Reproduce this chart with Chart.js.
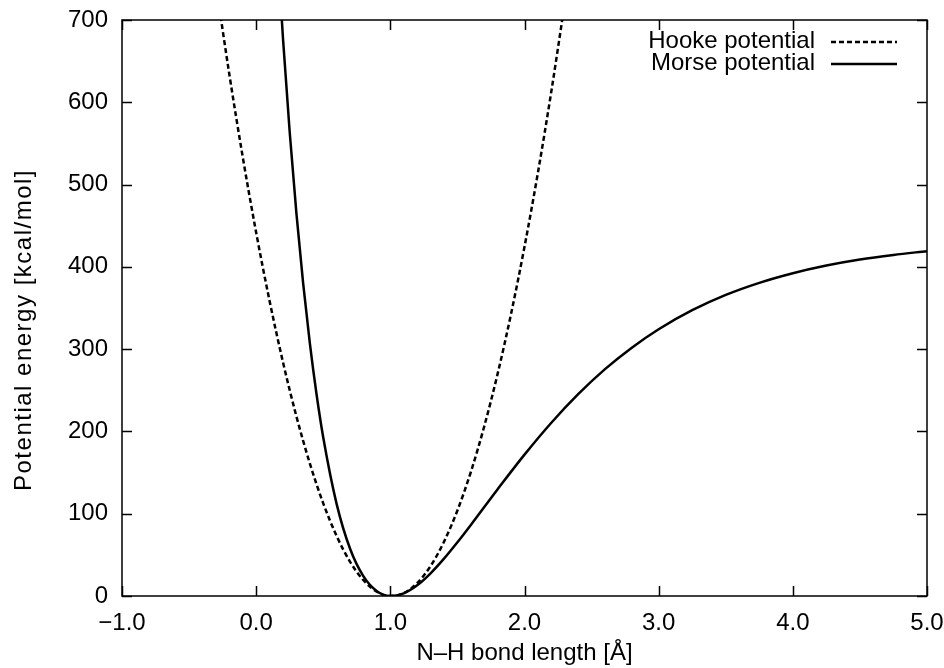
<!DOCTYPE html>
<html>
<head>
<meta charset="utf-8">
<script src="https://cdn.jsdelivr.net/npm/chart.js@4.4.1/dist/chart.umd.min.js"></script>
<style>
  html, body { margin: 0; padding: 0; background: #fff; }
  #wrap { width: 944px; height: 668px; }
</style>
</head>
<body>
<div id="wrap"><canvas id="pot" width="944" height="668"></canvas></div>
<script>
// values
const hookeR = [-0.3, -0.2, -0.1, 0.0, 0.1, 0.2, 0.3, 0.4, 0.5, 0.6, 0.7, 0.8, 0.9, 1.0,
  1.1, 1.2, 1.3, 1.4, 1.5, 1.6, 1.7, 1.8, 1.9, 2.0, 2.1, 2.2, 2.3];
const hookeE = [743.1, 634.0, 533.5, 441.7, 358.6, 284.1, 218.3, 161.1, 112.6, 72.8, 41.6, 19.1, 5.2, 0.0,
  3.5, 15.6, 36.4, 65.9, 104.0, 150.7, 206.2, 270.2, 343.0, 424.4, 514.4, 613.2, 720.6];

const morseR = [0.15, 0.2, 0.25, 0.3, 0.35, 0.4, 0.45, 0.5, 0.6, 0.7, 0.8, 0.9, 1.0,
  1.1, 1.2, 1.3, 1.4, 1.5, 1.6, 1.8, 2.0, 2.2, 2.4, 2.6, 2.8, 3.0,
  3.25, 3.5, 3.75, 4.0, 4.25, 4.5, 4.75, 5.0];
const morseE = [808.4, 677.4, 563.6, 465.1, 380.1, 307.2, 245.2, 192.6, 111.7, 57.4, 23.8, 5.9, 0.0,
  3.2, 13.0, 27.6, 45.4, 65.3, 86.4, 129.8, 171.8, 210.6, 245.3, 275.7, 301.8, 324.2,
  347.3, 365.9, 380.6, 392.3, 401.6, 408.9, 414.5, 419.1];

const seriesNames = ['Hooke potential', 'Morse potential'];
const xTicks = [-1, 0, 1, 2, 3, 4, 5];
const xTickLabels = ['\u22121.0', '0.0', '1.0', '2.0', '3.0', '4.0', '5.0'];
const yTicks = [0, 100, 200, 300, 400, 500, 600, 700];
const yTickLabels = ['0', '100', '200', '300', '400', '500', '600', '700'];
const yTitle = 'Potential energy [kcal/mol]';

const FONT = 'Liberation Sans, Arial, Helvetica, sans-serif';
const LW = 2.5;

function toPoints(xs, ys) {
  return xs.map((x, i) => ({ x: x, y: ys[i] }));
}

// gnuplot-like frame: full box, inward ticks on all sides, legend inside top right
const framePlugin = {
  id: 'frame',
  afterDraw(chart) {
    const ctx = chart.ctx;
    const a = chart.chartArea;
    const xs = chart.scales.x, ys = chart.scales.y;
    const tl = 10;
    ctx.save();
    ctx.strokeStyle = '#000';
    ctx.lineWidth = 1.5;
    ctx.beginPath();
    xTicks.forEach(v => {
      const px = Math.round(xs.getPixelForValue(v)) + 0.5;
      ctx.moveTo(px, a.bottom); ctx.lineTo(px, a.bottom - tl);
      ctx.moveTo(px, a.top); ctx.lineTo(px, a.top + tl);
    });
    yTicks.forEach(v => {
      const py = Math.round(ys.getPixelForValue(v)) + 0.5;
      ctx.moveTo(a.left, py); ctx.lineTo(a.left + tl, py);
      ctx.moveTo(a.right, py); ctx.lineTo(a.right - tl, py);
    });
    ctx.stroke();
    ctx.strokeRect(a.left, a.top, a.right - a.left, a.bottom - a.top);

    ctx.font = '24px ' + FONT;
    ctx.fillStyle = '#000';

    // y axis title
    ctx.save();
    ctx.translate(24, 330);
    ctx.rotate(-Math.PI / 2);
    ctx.letterSpacing = '1.5px';
    ctx.textAlign = 'center';
    ctx.textBaseline = 'middle';
    ctx.fillText(yTitle, 0, 0);
    ctx.restore();

    // legend
    ctx.textAlign = 'right';
    ctx.textBaseline = 'middle';
    const rows = [
      { y: a.top + 21, dash: [5, 3] },
      { y: a.top + 43, dash: [] }
    ];
    rows.forEach((r, i) => {
      ctx.fillText(seriesNames[i], a.right - 112, r.y);
      ctx.beginPath();
      ctx.setLineDash(r.dash);
      ctx.lineWidth = LW;
      ctx.moveTo(a.right - 96, r.y + 1);
      ctx.lineTo(a.right - 30, r.y + 1);
      ctx.stroke();
    });
    ctx.restore();
  }
};

new Chart(document.getElementById('pot'), {
  type: 'line',
  data: {
    datasets: [
      {
        label: seriesNames[0],
        data: toPoints(hookeR, hookeE),
        borderColor: '#000',
        borderWidth: LW,
        borderDash: [5, 3],
        pointRadius: 0,
        cubicInterpolationMode: 'monotone',
        fill: false
      },
      {
        label: seriesNames[1],
        data: toPoints(morseR, morseE),
        borderColor: '#000',
        borderWidth: LW,
        pointRadius: 0,
        cubicInterpolationMode: 'monotone',
        fill: false
      }
    ]
  },
  options: {
    responsive: false,
    animation: false,
    layout: { padding: { top: 20, right: 17, left: 0, bottom: 0 } },
    plugins: {
      legend: { display: false },
      tooltip: { enabled: false }
    },
    scales: {
      x: {
        type: 'linear',
        min: -1,
        max: 5,
        afterBuildTicks: s => { s.ticks = xTicks.map(v => ({ value: v })); },
        afterFit: s => {
          s.height = 72;
          s.paddingLeft = 0; s.paddingRight = 0;
        },
        grid: { display: false, drawTicks: false },
        border: { display: false },
        ticks: {
          color: '#000',
          font: { family: FONT, size: 24 },
          padding: 13,
          maxRotation: 0,
          callback: v => xTickLabels[xTicks.indexOf(v)]
        },
        title: {
          display: true,
          text: 'N\u2013H bond length [\u00c5]',
          color: '#000',
          font: { family: FONT, size: 24 },
          padding: { top: 4, bottom: 0 }
        }
      },
      y: {
        min: 0,
        max: 700,
        afterBuildTicks: s => { s.ticks = yTicks.map(v => ({ value: v })); },
        afterFit: s => {
          s.width = 122;
          s.paddingTop = 0; s.paddingBottom = 0;
        },
        grid: { display: false, drawTicks: false },
        border: { display: false },
        ticks: {
          color: '#000',
          font: { family: FONT, size: 24 },
          padding: 14,
          callback: v => yTickLabels[yTicks.indexOf(v)]
        }
      }
    }
  },
  plugins: [framePlugin]
});
</script>
</body>
</html>
